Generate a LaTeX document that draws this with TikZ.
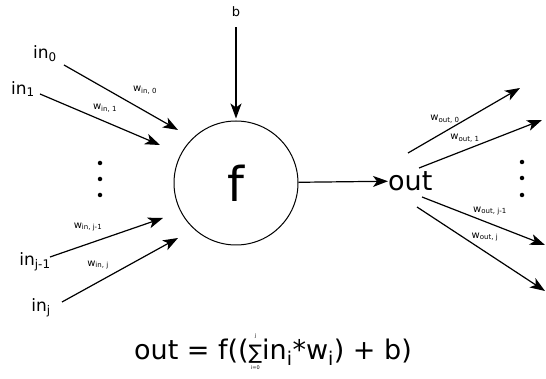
\documentclass[tikz,border=0pt]{standalone}
\usepackage{amsmath}
\usepackage{fontspec}
\setmainfont{DejaVu Sans}
\usepackage{tikz}
\usetikzlibrary{arrows.meta,positioning}

\newcommand{\sumlim}{\setbox0\hbox{\fontsize{20}{20}\selectfont ∑}%
  \rlap{\hbox to \wd0{\hss\raisebox{22pt}{\fontsize{5}{5}\selectfont j}\hss}}%
  \rlap{\hbox to \wd0{\hss\raisebox{-10pt}{\fontsize{5}{5}\selectfont i=0}\hss}}%
  \box0}

\begin{document}
\begin{tikzpicture}[x=1pt, y=-1pt,
    neuron/.style={circle, draw, line width=1pt, minimum size=124pt, inner sep=0pt,
                   font=\fontsize{48}{48}\selectfont},
    inlabel/.style={inner sep=0pt, font=\fontsize{17}{17}\selectfont},
    weight/.style={inner sep=0pt, font=\fontsize{10}{10}\selectfont},
    arrow/.style={-{Stealth[length=15pt,width=11pt,inset=4pt]}, line width=1.2pt},
    dotnode/.style={circle, fill, inner sep=0pt, minimum size=4.5pt}
]
\useasboundingbox (0,0) rectangle (546,379);

% neuron, bias and output
\node[neuron] (f) at (236,183) {f};
\node[inner sep=0pt, font=\fontsize{13}{13}\selectfont] (b) at (236,12) {b};
\node[inner sep=0pt, anchor=west, font=\fontsize{27}{27}\selectfont] (out) at (388,181) {out};

% input labels
\node[inlabel] (in0) at (45,54) {in\textsubscript{0}};
\node[inlabel] (in1) at (23,89) {in\textsubscript{1}};
\node[inlabel] (inj1) at (35,262) {in\textsubscript{j-1}};
\node[inlabel] (inj) at (41,308) {in\textsubscript{j}};

% input weights
\node[weight] (win0) at (145,90) {w\textsubscript{in, 0}};
\node[weight] (win1) at (105,108) {w\textsubscript{in, 1}};
\node[weight] (winj1) at (88,227) {w\textsubscript{in, j-1}};
\node[weight] (winj) at (98,265) {w\textsubscript{in, j}};

% output weights
\node[weight] (wout0) at (445,119) {w\textsubscript{out, 0}};
\node[weight] (wout1) at (465,138) {w\textsubscript{out, 1}};
\node[weight] (woutj1) at (490,211) {w\textsubscript{out, j-1}};
\node[weight] (woutj) at (485,237) {w\textsubscript{out, j}};

% dots
\node[dotnode] (ldot1) at (100,163) {};
\node[dotnode] (ldot2) at (100,179) {};
\node[dotnode] (ldot3) at (100,195) {};
\node[dotnode] (rdot1) at (522,162) {};
\node[dotnode] (rdot2) at (522,178) {};
\node[dotnode] (rdot3) at (522,195) {};

% arrow ends
\coordinate (in0s) at (64,65);    \coordinate (in0e) at (178,130);
\coordinate (in1s) at (40,94);    \coordinate (in1e) at (160,145);
\coordinate (inj1s) at (50,257);  \coordinate (inj1e) at (163,218);
\coordinate (injs) at (62,302);   \coordinate (inje) at (178,238);
\coordinate (out0s) at (408,153); \coordinate (out0e) at (520,88);
\coordinate (out1s) at (419,168); \coordinate (out1e) at (542,120);
\coordinate (outj1s) at (422,197); \coordinate (outj1e) at (545,245);
\coordinate (outjs) at (417,207); \coordinate (outje) at (545,291);

\draw[arrow] (in0s) -- (in0e);
\draw[arrow] (in1s) -- (in1e);
\draw[arrow] (inj1s) -- (inj1e);
\draw[arrow] (injs) -- (inje);
\draw[arrow, shorten <=10pt, shorten >=2pt] (b) -- (f);
\draw[arrow] (f) -- (out);
\draw[arrow] (out0s) -- (out0e);
\draw[arrow] (out1s) -- (out1e);
\draw[arrow] (outj1s) -- (outj1e);
\draw[arrow] (outjs) -- (outje);

% formula
\node[inner sep=0pt, font=\fontsize{27}{27}\selectfont] (formula) at (273,352)
  {out = f((\sumlim in\textsubscript{i}*w\textsubscript{i}) + b)};
\end{tikzpicture}
\end{document}
